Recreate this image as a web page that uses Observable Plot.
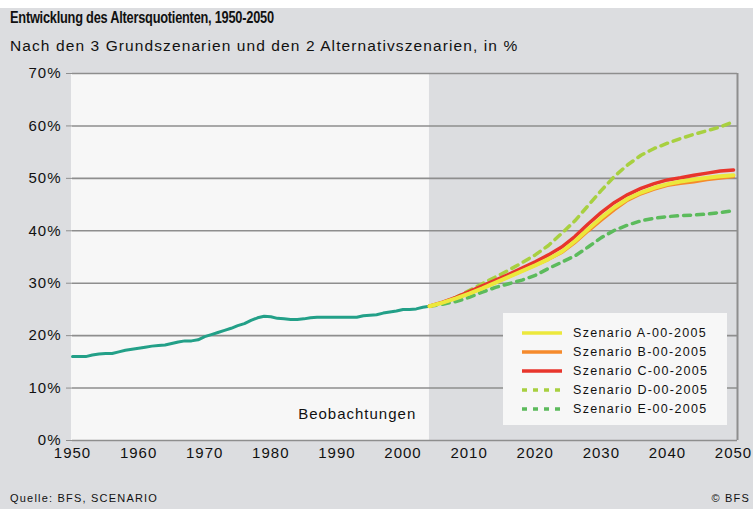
<!DOCTYPE html>
<html><head><meta charset="utf-8">
<script src="https://cdn.jsdelivr.net/npm/d3@7"></script>
<script src="https://cdn.jsdelivr.net/npm/@observablehq/plot@0.6"></script>
<style>
html,body{margin:0;padding:0;background:#fff;}
#wrap{position:relative;width:753px;height:509px;overflow:hidden;font-family:"Liberation Sans",Arial,sans-serif;color:#111;}
#bg{position:absolute;left:0;top:8px;width:753px;height:501px;background:#dcdde0;}
#title{position:absolute;left:10px;top:9px;font-weight:bold;font-size:16px;letter-spacing:-0.3px;white-space:nowrap;transform-origin:0 0;transform:scaleX(0.8);}
#subtitle{position:absolute;left:10px;top:37px;font-size:15.5px;letter-spacing:1.1px;white-space:nowrap;}
#chart{position:absolute;left:0;top:60px;}
#legend{position:absolute;left:503px;top:313px;width:224px;height:112px;background:#f7f7f7;}
.row{position:absolute;left:0;height:16px;width:224px;}
.row svg{position:absolute;left:19px;top:3px;}
.row span{position:absolute;left:70px;top:0;font-size:12.5px;letter-spacing:1.3px;white-space:nowrap;line-height:16px;}
#source{position:absolute;left:10px;top:492px;font-size:11px;letter-spacing:1.2px;white-space:nowrap;}
#copy{position:absolute;right:3px;top:492px;font-size:11px;letter-spacing:1.2px;white-space:nowrap;}
</style></head>
<body>
<div id="wrap">
  <div id="bg"></div>
  <div id="title">Entwicklung des Altersquotienten, 1950-2050</div>
  <div id="subtitle">Nach den 3 Grundszenarien und den 2 Alternativszenarien, in %</div>
  <div id="chart"></div>
  <div id="legend"></div>
  <div id="source">Quelle: BFS, SCENARIO</div>
  <div id="copy">© BFS</div>
</div>
<script>
// Observed old-age dependency ratio (%)
const obsYears = [1950,1951,1952,1953,1954,1955,1956,1957,1958,1959,1960,1961,1962,1963,1964,1965,1966,1967,1968,1969,1970,1971,1972,1973,1974,1975,1976,1977,1978,1979,1980,1981,1982,1983,1984,1985,1986,1987,1988,1989,1990,1991,1992,1993,1994,1995,1996,1997,1998,1999,2000,2001,2002,2003,2004];
const obsValues = [16.0,16.0,16.0,16.3,16.5,16.6,16.6,16.9,17.2,17.4,17.6,17.8,18.0,18.1,18.2,18.5,18.8,19.0,19.0,19.2,19.8,20.2,20.6,21.0,21.4,21.9,22.3,22.9,23.4,23.7,23.6,23.3,23.2,23.1,23.1,23.2,23.4,23.5,23.5,23.5,23.5,23.5,23.5,23.5,23.8,23.9,24.0,24.3,24.5,24.7,25.0,25.0,25.1,25.4,25.6];

// Projections
const projYears = [2004,2006,2008,2010,2012,2014,2016,2018,2020,2022,2024,2026,2028,2030,2032,2034,2036,2038,2040,2042,2044,2046,2048,2050];
const scenA = [25.6,26.3,27.1,28.0,29.0,30.1,31.2,32.3,33.4,34.6,36.0,38.0,40.3,42.5,44.5,46.1,47.3,48.2,48.9,49.4,49.8,50.1,50.4,50.6];
const scenB = [25.6,26.3,27.1,28.0,29.0,30.1,31.2,32.3,33.4,34.5,35.8,37.7,39.9,42.0,44.0,45.8,47.0,47.9,48.6,49.0,49.3,49.7,50.0,50.3];
const scenC = [25.6,26.4,27.3,28.4,29.5,30.6,31.7,32.9,34.1,35.4,36.9,38.9,41.3,43.5,45.4,46.9,48.1,49.0,49.7,50.1,50.6,51.0,51.4,51.6];
const scenD = [25.6,26.3,27.3,28.6,29.9,31.2,32.5,33.9,35.4,37.2,39.5,41.9,44.8,47.7,50.4,52.6,54.4,55.7,56.7,57.6,58.4,59.1,59.8,60.8];
const scenE = [25.6,26.0,26.5,27.3,28.3,29.2,29.9,30.6,31.5,32.8,34.0,35.2,36.9,38.7,40.1,41.1,41.9,42.4,42.7,42.9,43.0,43.2,43.5,43.8];

const scenNames = ["Szenario A-00-2005","Szenario B-00-2005","Szenario C-00-2005","Szenario D-00-2005","Szenario E-00-2005"];
const scenColors = ["#ece83c","#f58a2c","#e8352c","#a8d040","#5cbb5c"];
const scenDash = [null,null,null,"7,6","7,6"];
const scenWidth = [4,2.8,3.5,3.5,3.5];
const obsColor = "#23a088";

const xTicks = [1950,1960,1970,1980,1990,2000,2010,2020,2030,2040,2050];
const yTicks = [0,10,20,30,40,50,60,70];
const xDomain = [1950, 2050.6];
const yDomain = [0, 70];
const periods = [{from: 1949.85, to: 2004, label: "Beobachtungen", labelYear: 2002, labelValue: 5}];

const obs = obsYears.map((y,i)=>({year:y, value:obsValues[i]}));
const scenValues = [scenA, scenB, scenC, scenD, scenE];
const scen = scenValues.map(vals => projYears.map((y,i)=>({year:y, value:vals[i]})));

const drawOrder = [4,3,2,1,0];
const lineMarks = drawOrder.map(k => Plot.line(scen[k], {
  x:"year", y:"value", stroke: scenColors[k], strokeWidth: scenWidth[k],
  strokeDasharray: scenDash[k] || undefined, curve:"linear"
}));

const chart = Plot.plot({
  width: 753, height: 410,
  marginLeft: 72, marginRight: 16, marginTop: 13, marginBottom: 30,
  style: {background:"transparent", fontFamily:"'Liberation Sans', Arial, sans-serif", fontSize:"15px", color:"#111"},
  x: {domain: xDomain, label: null},
  y: {domain: yDomain, label: null},
  marks: [
    Plot.rect(periods, {x1:"from", x2:"to", fill:"#f7f7f7"}),
    Plot.ruleY(yTicks, {stroke:"#8e8e8e", strokeWidth:1.6}),
    Plot.ruleX([xDomain[1]], {stroke:"#8e8e8e", strokeWidth:2}),
    Plot.line(obs, {x:"year", y:"value", stroke: obsColor, strokeWidth:3}),
    ...lineMarks,
    Plot.text(periods, {x:"labelYear", y:"labelValue", text:"label", textAnchor:"end", fontSize:15, fill:"#111", style:"letter-spacing:1.3px"}),
    Plot.axisX(xTicks, {tickSize:0, tickPadding:7, tickFormat: d=>String(d), fontSize:15, fill:"#111"}),
    Plot.axisY(yTicks, {tickSize:6, tickPadding:5, tickFormat: d=>d+"%", stroke:"#8e8e8e", fontSize:15, fill:"#111"})
  ]
});
d3.select(chart).selectAll("text").style("letter-spacing","1px");
document.getElementById("chart").appendChild(chart);

// legend
const legend = document.getElementById("legend");
scenNames.forEach((name,k)=>{
  const row = document.createElement("div");
  row.className = "row";
  row.style.top = (12 + k*19) + "px";
  const dash = scenDash[k] ? 'stroke-dasharray="5,6"' : '';
  row.innerHTML = `<svg width="42" height="10"><line x1="0" x2="40" y1="5" y2="5" stroke="${scenColors[k]}" stroke-width="3.5" ${dash}/></svg><span>${name}</span>`;
  legend.appendChild(row);
});
</script>
</body></html>
